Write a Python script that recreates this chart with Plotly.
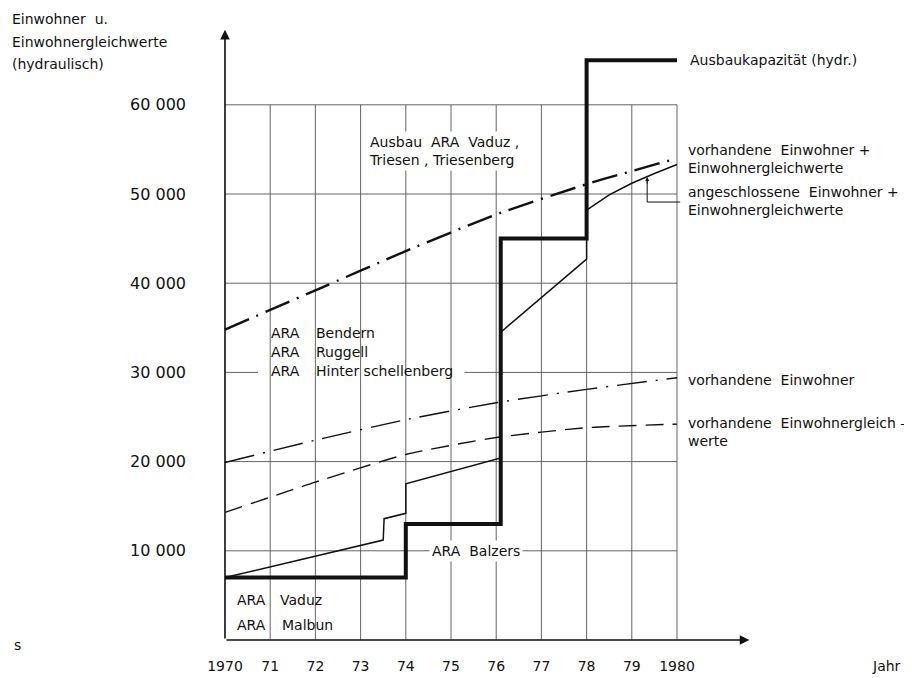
import plotly.graph_objects as go

# ---------------- data ----------------
years_ticks = [1970, 1971, 1972, 1973, 1974, 1975, 1976, 1977, 1978, 1979, 1980]
year_tick_text = ["1970", "71", "72", "73", "74", "75", "76", "77", "78", "79", "1980"]
y_ticks = [10000, 20000, 30000, 40000, 50000, 60000]
y_tick_text = ["10 000", "20 000", "30 000", "40 000", "50 000", "60 000"]

# Ausbaukapazität (hydr.) - step line
cap_x = [1970, 1974, 1974, 1976.1, 1976.1, 1978, 1978, 1980]
cap_y = [7000, 7000, 13000, 13000, 45000, 45000, 65000, 65000]

# angeschlossene Einwohner + Einwohnergleichwerte
conn_x = [1970, 1973.5, 1973.52, 1974, 1974, 1976.0, 1976.1, 1976.1, 1978, 1978, 1978.5, 1979, 1979.5, 1980]
conn_y = [7000, 11200, 13600, 14200, 17500, 20300, 20400, 34500, 42700, 48200, 49900, 51200, 52300, 53300]

# vorhandene Einwohner + Einwohnergleichwerte
tot_x = [1970, 1972, 1974, 1976, 1978, 1980]
tot_y = [34800, 39200, 43600, 47700, 51100, 54000]

# vorhandene Einwohner
inh_x = [1970, 1972, 1974, 1976, 1978, 1980]
inh_y = [19900, 22400, 24700, 26600, 28100, 29400]

# vorhandene Einwohnergleichwerte
egw_x = [1970, 1972, 1974, 1976, 1978, 1980]
egw_y = [14300, 17700, 20800, 22700, 23800, 24200]

FONT = "DejaVu Sans"
INK = "#111111"
GRID = "#555555"

fig = go.Figure()

fig.add_trace(go.Scatter(x=egw_x, y=egw_y, mode="lines", line=dict(color=INK, width=1.4, dash="18px,9px", shape="spline", smoothing=0.6)))
fig.add_trace(go.Scatter(x=inh_x, y=inh_y, mode="lines", line=dict(color=INK, width=1.4, dash="30px,9px,2px,9px", shape="spline", smoothing=0.6)))
fig.add_trace(go.Scatter(x=tot_x, y=tot_y, mode="lines", line=dict(color=INK, width=2.4, dash="26px,8px,2px,8px", shape="spline", smoothing=0.6)))
fig.add_trace(go.Scatter(x=conn_x, y=conn_y, mode="lines", line=dict(color=INK, width=1.5)))
fig.add_trace(go.Scatter(x=cap_x, y=cap_y, mode="lines", line=dict(color=INK, width=4)))

shapes = []
# vertical grid lines
for yr in years_ticks[1:]:
    shapes.append(dict(type="line", xref="x", yref="y", x0=yr, x1=yr, y0=0, y1=60000,
                       line=dict(color=GRID, width=0.9), layer="below"))
# horizontal grid lines (30000 interrupted by label)
for v in y_ticks:
    if v == 30000:
        segs = [(1970, 1970.73), (1975.3, 1980)]
    else:
        segs = [(1970, 1980)]
    for a, b in segs:
        shapes.append(dict(type="line", xref="x", yref="y", x0=a, x1=b, y0=v, y1=v,
                           line=dict(color=GRID, width=0.9), layer="below"))
# leader line for "angeschlossene ..."
shapes.append(dict(type="path", xref="x", yref="y",
                   path="M 1980.07 49100 L 1979.34 49100 L 1979.34 51500",
                   line=dict(color=INK, width=1)))

annotations = []
# axis arrows
annotations.append(dict(x=1981.6, y=0, ax=1970, ay=0, xref="x", yref="y", axref="x", ayref="y",
                        showarrow=True, arrowhead=2, arrowsize=1.2, arrowwidth=1.6, arrowcolor=INK, text=""))
annotations.append(dict(x=1970, y=68400, ax=1970, ay=0, xref="x", yref="y", axref="x", ayref="y",
                        showarrow=True, arrowhead=2, arrowsize=1.2, arrowwidth=1.6, arrowcolor=INK, text=""))
# small arrow on leader
annotations.append(dict(x=1979.34, y=51900, ax=1979.34, ay=51000, xref="x", yref="y", axref="x", ayref="y",
                        showarrow=True, arrowhead=2, arrowsize=0.8, arrowwidth=1, arrowcolor=INK, text=""))


def txt(text, x, y, xanchor="left", bg=None, size=14, xref="x", yref="y", align="left"):
    d = dict(text=text, x=x, y=y, xref=xref, yref=yref, xanchor=xanchor, yanchor="middle",
             showarrow=False, align=align, font=dict(family=FONT, size=size, color=INK))
    if bg:
        d["bgcolor"] = bg
        d["borderpad"] = 2
    annotations.append(d)


# page offset (browser body margin) and plot area in figure pixels
OFF = 8
W, H = 912, 678
L, T = 215 - OFF, 28 - OFF
B = H - (650 - OFF)
R = W - (760 - OFF)


def px(xs):
    # screen pixel (as in reference) -> paper x
    return (xs - OFF - L) / (W - L - R)


def py(ys):
    return (H - B - (ys - OFF)) / (H - T - B)


# axis title
txt("Einwohner\u00a0 u.", px(10), py(19), xref="paper", yref="paper")
txt("Einwohnergleichwerte", px(10), py(42), xref="paper", yref="paper")
txt("(hydraulisch)", px(10), py(64), xref="paper", yref="paper")
txt("Jahr", px(870), py(666), xref="paper", yref="paper")
txt("s", px(12), py(645), xref="paper", yref="paper")

# right-hand labels
txt("Ausbaukapazität (hydr.)", 1980.24, 65000)
txt("vorhandene\u00a0 Einwohner +<br>Einwohnergleichwerte", 1980.2, 53900)
txt("angeschlossene\u00a0 Einwohner +<br>Einwohnergleichwerte", 1980.2, 49200)
txt("vorhandene\u00a0 Einwohner", 1980.2, 29100)
txt("vorhandene\u00a0 Einwohnergleich –<br>werte", 1980.2, 23300)

# inner labels
txt("Ausbau\u00a0 ARA\u00a0 Vaduz ,<br>Triesen , Triesenberg", 1973.12, 54800, bg="white")
txt("ARA", 1970.98, 34400)
txt("Bendern", 1971.98, 34400)
txt("ARA", 1970.98, 32300)
txt("Ruggell", 1971.98, 32300)
txt("ARA", 1970.98, 30200)
txt("Hinter schellenberg", 1971.98, 30200)
txt("ARA\u00a0 Balzers", 1975.55, 10000, xanchor="center", bg="white")
txt("ARA", 1970.22, 4500)
txt("Vaduz", 1971.18, 4500)
txt("ARA", 1970.22, 1700)
txt("Malbun", 1971.22, 1700)

fig.update_layout(
    width=W, height=H,
    margin=dict(l=L, r=R, t=T, b=B, autoexpand=False),
    paper_bgcolor="white", plot_bgcolor="white",
    showlegend=False,
    shapes=shapes,
    annotations=annotations,
    font=dict(family=FONT, size=14, color=INK),
    xaxis=dict(range=[1969.779, 1981.836], tickmode="array", tickvals=years_ticks, ticktext=year_tick_text,
               showgrid=False, zeroline=False, showline=False, ticks="", ticklabelstandoff=6,
               automargin=False,
               tickfont=dict(family=FONT, size=14, color=INK), fixedrange=True),
    yaxis=dict(range=[-1121, 68610], tickmode="array", tickvals=y_ticks, ticktext=y_tick_text,
               showgrid=False, zeroline=False, showline=False, ticks="", ticklabelstandoff=28,
               automargin=False,
               tickfont=dict(family=FONT, size=16, color=INK), fixedrange=True),
)

fig.write_html("out.html")
